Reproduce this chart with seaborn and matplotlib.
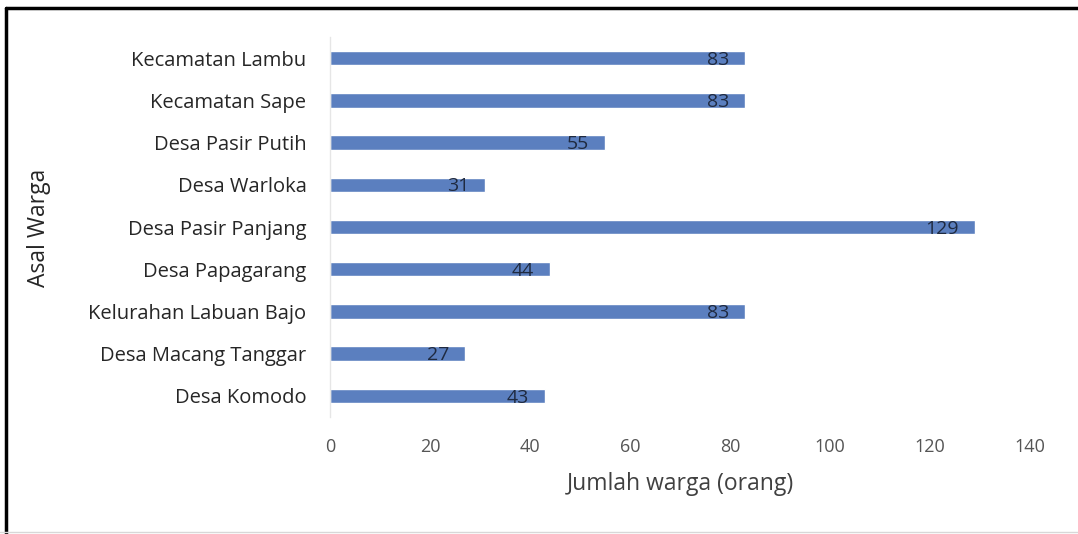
import matplotlib
matplotlib.use("Agg")
import matplotlib.pyplot as plt
import seaborn as sns
import pandas as pd

# Origin of residents and their counts (top to bottom)
categories = [
    "Kecamatan Lambu",
    "Kecamatan Sape",
    "Desa Pasir Putih",
    "Desa Warloka",
    "Desa Pasir Panjang",
    "Desa Papagarang",
    "Kelurahan Labuan Bajo",
    "Desa Macang Tanggar",
    "Desa Komodo",
]
values = [83, 83, 55, 31, 129, 44, 83, 27, 43]
x_ticks = [0, 20, 40, 60, 80, 100, 120, 140]

df = pd.DataFrame({"asal": categories, "jumlah": values})

sns.set_theme(style="white")
plt.rcParams["font.family"] = ["Open Sans", "DejaVu Sans"]

fig = plt.figure(figsize=(10.78, 5.34), dpi=100)
ax = fig.add_axes([330 / 1078, 1 - 417 / 534, 700 / 1078, 380 / 534])

sns.barplot(data=df, x="jumlah", y="asal", color="#5B7FBF", width=0.34,
            saturation=1, ax=ax, orient="h")

# Value labels just inside the end of each bar
for i, v in enumerate(values):
    ax.text(v - 3.2, i + 0.04, str(v), ha="right", va="center", fontsize=14,
            color="#1f2a40")

ax.set_xlim(0, 140)
ax.set_xticks(x_ticks)
ax.set_xticklabels([str(t) for t in x_ticks], fontsize=13, color="#555555")
ax.tick_params(axis="x", length=0, pad=15)
ax.tick_params(axis="y", length=0, pad=17, labelsize=14.5, labelcolor="#262626")
ax.set_xlabel("Jumlah warga (orang)", fontsize=16.5, color="#404040", labelpad=12)
ax.set_ylabel("Asal Warga", fontsize=16.5, color="#262626")
ax.yaxis.set_label_coords(-0.399, 0.497)

for side in ["top", "right", "bottom"]:
    ax.spines[side].set_visible(False)
ax.spines["left"].set_color("#e6e6e6")
ax.spines["left"].set_linewidth(1)

# Frame around the chart area (top and left edges)
fig.add_artist(plt.Line2D([6 / 1078, 6 / 1078], [0, 1 - 8 / 534],
                          transform=fig.transFigure, color="black", lw=2.5))
fig.add_artist(plt.Line2D([6 / 1078, 1], [1 - 8 / 534, 1 - 8 / 534],
                          transform=fig.transFigure, color="black", lw=2.5))
fig.add_artist(plt.Line2D([0, 1], [1 - 532 / 534, 1 - 532 / 534],
                          transform=fig.transFigure, color="#d8d8d8", lw=1))

fig.savefig("out.png", dpi=100)
